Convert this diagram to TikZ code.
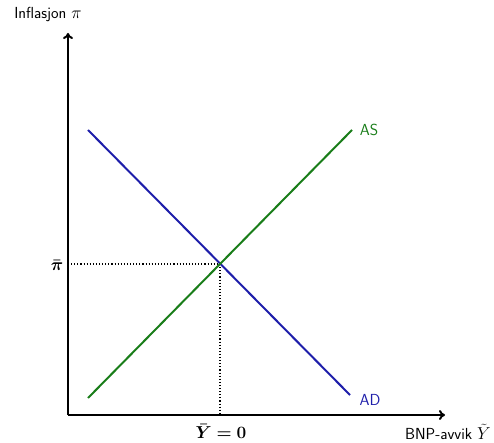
\documentclass[tikz,border=0pt]{standalone}
\usepackage{amsmath,bm}
\usetikzlibrary{arrows.meta}
\definecolor{adblue}{RGB}{30,30,170}
\definecolor{asgreen}{RGB}{25,125,25}
\tikzset{
  axis/.style={line width=2pt,-{To[length=6pt,width=10pt]}},
  curve/.style={line width=2pt},
  guide/.style={dotted,line width=1.1pt},
  lbl/.style={font=\sffamily\fontsize{16}{18}\selectfont,inner sep=1pt}
}
\begin{document}
\begin{tikzpicture}[x=1pt,y=-1pt]
\useasboundingbox (0,0) rectangle (494,443);
\coordinate (O) at (68,415);
\coordinate (ytop) at (68,33);
\coordinate (xend) at (445,415);
\coordinate (E) at (220,264);
\coordinate (Ey) at (68,264);
\coordinate (Ex) at (220,415);
\coordinate (ad1) at (88,130);
\coordinate (ad2) at (350,395);
\coordinate (as1) at (88,398);
\coordinate (as2) at (352,130);
\draw[guide] (Ey) -- (E);
\draw[guide] (E) -- (Ex);
\draw[axis] (O) -- (ytop);
\draw[axis] (O) -- (xend);
\draw[curve,adblue] (ad1) -- (ad2);
\draw[curve,asgreen] (as1) -- (as2);
\node[lbl] (ylab) at (48,15) {Inflasjon $\pi$};
\node[lbl,anchor=east] (xlab) at (492,432) {BNP-avvik $\tilde{Y}$};
\node[lbl,adblue] (adl) at (370,400) {AD};
\node[lbl,asgreen] (asl) at (369,130) {AS};
\node[lbl] (pil) at (57,265) {$\bm{\bar{\pi}}$};
\node[lbl] (yl) at (221,431) {$\bm{\bar{Y}=0}$};
\end{tikzpicture}
\end{document}
